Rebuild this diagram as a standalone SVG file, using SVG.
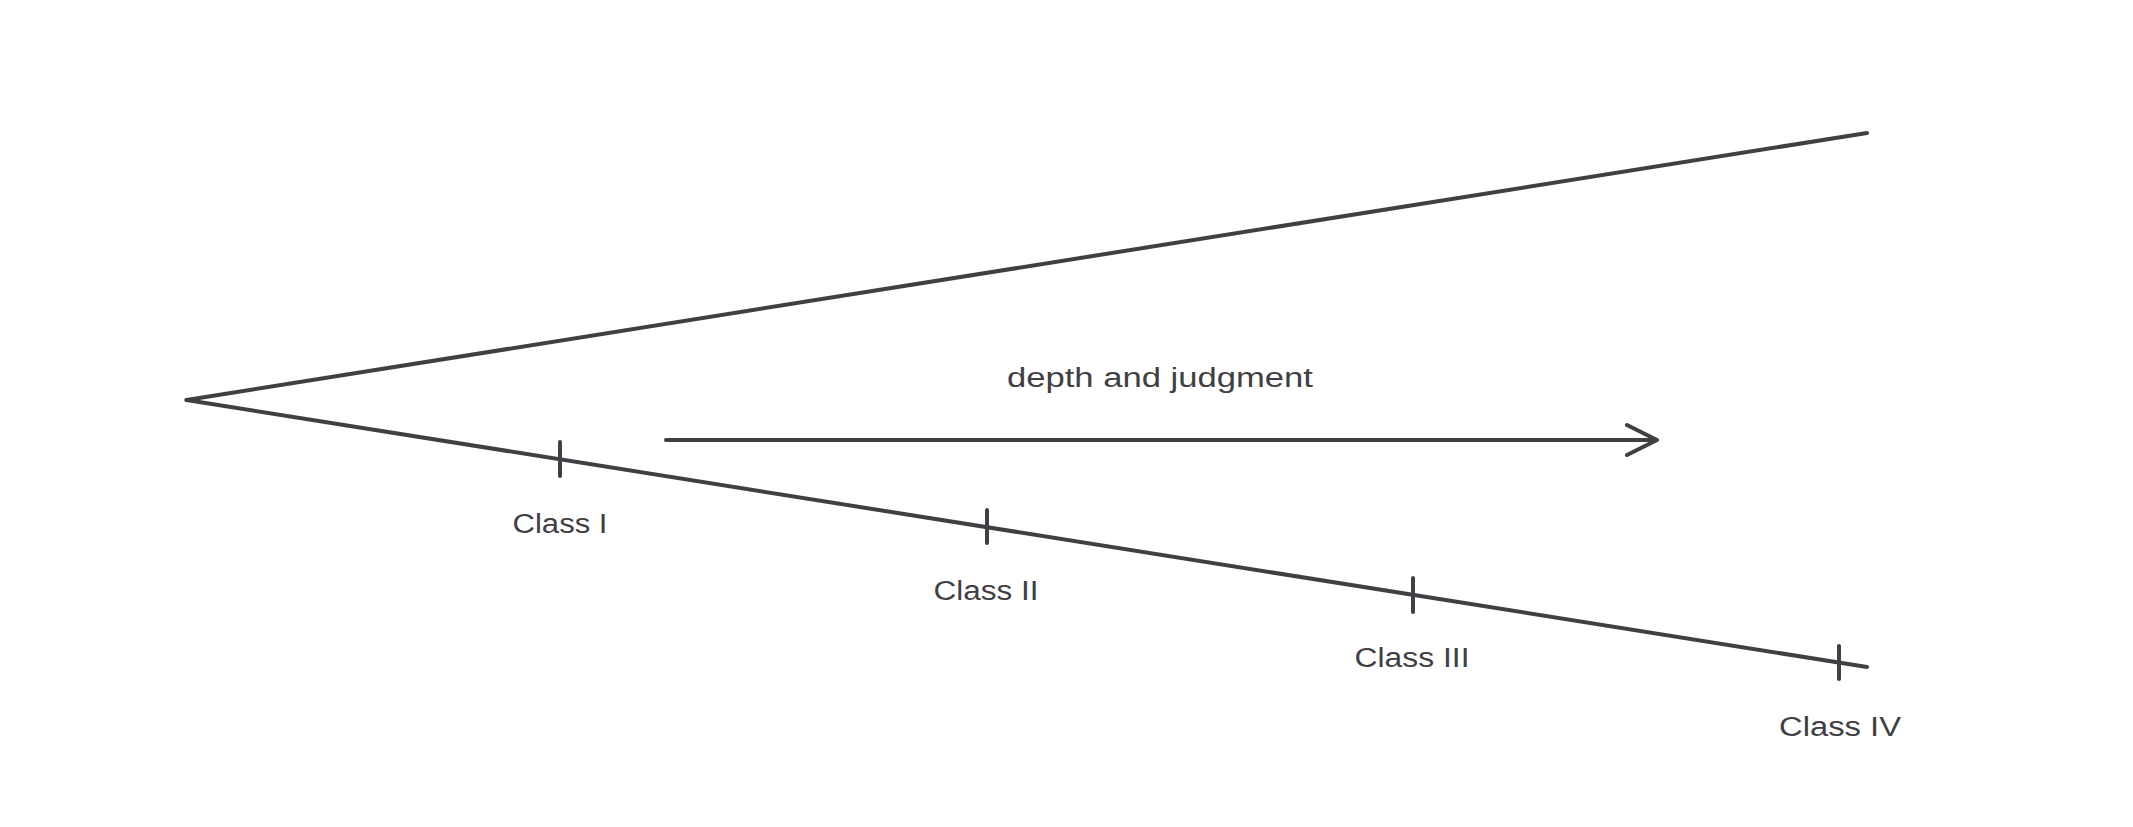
<svg xmlns="http://www.w3.org/2000/svg" width="2133" height="827" viewBox="0 0 2133 827">
<style>
.ln{stroke:#3f3f44;stroke-width:4;stroke-linecap:round;stroke-linejoin:round;fill:none}
.lb{font-family:"Liberation Sans","DejaVu Sans",sans-serif;font-size:27px;fill:#3f3f44;text-anchor:middle}
</style>
<rect width="2133" height="827" fill="#ffffff"/>
<g id="connectors">
<path class="ln" d="M186.5,400 L1867,133"/>
<path class="ln" d="M186.5,400 L1867,667"/>
<path id="arrow" class="ln" d="M666,440 L1657,440 M1627,425 L1657,440 L1627,455"/>
</g>
<g id="tick-class-1">
<path class="ln" d="M560,442 L560,476"/>
<text class="lb" x="560" y="533" textLength="95" lengthAdjust="spacingAndGlyphs">Class I</text>
</g>
<g id="tick-class-2">
<path class="ln" d="M987,510 L987,543"/>
<text class="lb" x="986" y="600" textLength="105" lengthAdjust="spacingAndGlyphs">Class II</text>
</g>
<g id="tick-class-3">
<path class="ln" d="M1413,578 L1413,612"/>
<text class="lb" x="1412" y="667" textLength="115" lengthAdjust="spacingAndGlyphs">Class III</text>
</g>
<g id="tick-class-4">
<path class="ln" d="M1839,646 L1839,679"/>
<text class="lb" x="1840" y="736" textLength="122" lengthAdjust="spacingAndGlyphs">Class IV</text>
</g>
<g id="label-depth">
<text class="lb" x="1160" y="387" textLength="306" lengthAdjust="spacingAndGlyphs">depth and judgment</text>
</g>
</svg>
